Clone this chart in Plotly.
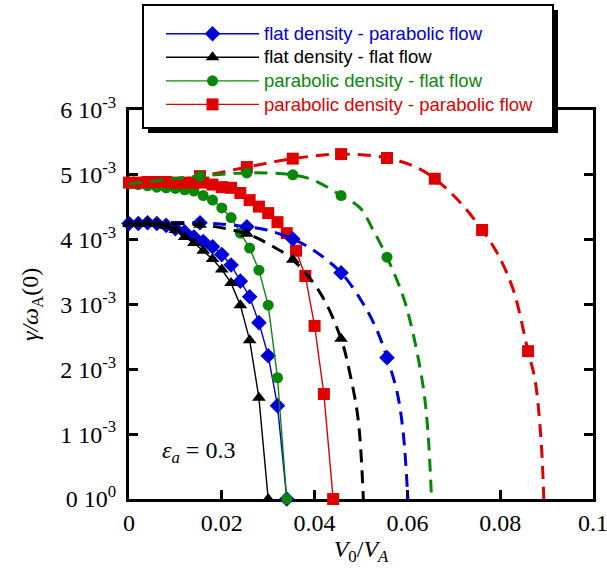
import numpy as np
import plotly.graph_objects as go

# Growth rate gamma/omega_A(0) (in units of 1e-3) versus V0/VA
# Solid curves: computed points every 0.002
blue_x = [0, 0.002, 0.004, 0.006, 0.008, 0.010, 0.012, 0.014, 0.016, 0.018,
          0.020, 0.022, 0.024, 0.026, 0.028, 0.030, 0.032, 0.034]
blue_y = [4.25, 4.25, 4.26, 4.25, 4.22, 4.17, 4.12, 4.04, 3.97, 3.89,
          3.77, 3.61, 3.36, 3.12, 2.72, 2.21, 1.44, 0.0]

black_x = [0, 0.002, 0.004, 0.006, 0.008, 0.010, 0.012, 0.014, 0.016, 0.018,
           0.020, 0.022, 0.024, 0.026, 0.028, 0.030]
black_y = [4.24, 4.24, 4.26, 4.24, 4.21, 4.15, 4.04, 3.95, 3.83, 3.70,
           3.54, 3.33, 2.99, 2.45, 1.56, 0.0]

green_x = [0, 0.002, 0.004, 0.006, 0.008, 0.010, 0.012, 0.014, 0.016, 0.018,
           0.020, 0.022, 0.024, 0.026, 0.028, 0.030, 0.032, 0.034]
green_y = [4.86, 4.85, 4.83, 4.81, 4.80, 4.79, 4.77, 4.75, 4.68, 4.61,
           4.49, 4.34, 4.10, 3.87, 3.53, 2.99, 1.87, 0.0]

red_x = [0, 0.002, 0.004, 0.006, 0.008, 0.010, 0.012, 0.014, 0.016, 0.018,
         0.020, 0.022, 0.024, 0.026, 0.028, 0.030, 0.032, 0.034, 0.036, 0.038,
         0.040, 0.042, 0.044]
red_y = [4.88, 4.88, 4.89, 4.89, 4.89, 4.88, 4.88, 4.88, 4.88, 4.85,
         4.81, 4.80, 4.72, 4.61, 4.51, 4.41, 4.27, 4.10, 3.83, 3.44,
         2.67, 1.62, 0.0]

# Dashed curves (second model): curve samples and marked points
blue_dx = [0, 0.0153, 0.0254, 0.0297, 0.0353, 0.0397, 0.0457, 0.0504, 0.0534,
           0.0556, 0.0578, 0.0591, 0.0601]
blue_dy = [4.25, 4.26, 4.20, 4.15, 4.01, 3.84, 3.49, 3.02, 2.61,
           2.18, 1.64, 1.02, 0.0]
blue_mx = [0.0153, 0.0254, 0.0353, 0.0457, 0.0556]
blue_my = [4.26, 4.20, 4.01, 3.49, 2.18]

black_dx = [0, 0.0153, 0.0254, 0.0304, 0.0353, 0.0412, 0.0457, 0.0476, 0.0494, 0.0505]
black_dy = [4.24, 4.23, 4.09, 3.92, 3.69, 3.18, 2.47, 1.94, 1.22, 0.0]
black_mx = [0.0153, 0.0254, 0.0353, 0.0457]
black_my = [4.23, 4.09, 3.69, 2.47]

green_dx = [0, 0.0153, 0.0254, 0.0353, 0.0397, 0.0457, 0.0498, 0.0526, 0.0556,
            0.0591, 0.0612, 0.0634, 0.0644, 0.0652]
green_dy = [4.86, 4.98, 5.03, 5.00, 4.92, 4.68, 4.49, 4.15, 3.73,
            3.12, 2.56, 1.73, 1.06, 0.0]
green_mx = [0.0153, 0.0254, 0.0353, 0.0457, 0.0556]
green_my = [4.98, 5.03, 5.00, 4.68, 3.73]

red_dx = [0, 0.0153, 0.0254, 0.0353, 0.0457, 0.0556, 0.0621, 0.0659, 0.0713,
          0.0761, 0.0793, 0.0828, 0.0860, 0.0875, 0.0888, 0.0894]
red_dy = [4.88, 4.98, 5.12, 5.25, 5.32, 5.26, 5.11, 4.94, 4.58,
          4.15, 3.80, 3.23, 2.28, 1.84, 0.91, 0.0]
red_mx = [0.0153, 0.0254, 0.0353, 0.0457, 0.0556, 0.0659, 0.0761, 0.0860]
red_my = [4.98, 5.12, 5.25, 5.32, 5.26, 4.94, 4.15, 2.28]

x_ticks = [0, 0.02, 0.04, 0.06, 0.08, 0.1]
x_ticktext = ["0", "0.02", "0.04", "0.06", "0.08", "0.1"]
y_ticks = [0, 1, 2, 3, 4, 5, 6]
y_ticktext = ["0 10<sup>0</sup>"] + [f"{v} 10<sup>-3</sup>" for v in y_ticks[1:]]

BLUE = "#0000d8"
BLACK = "#000000"
GREEN = "#0a870a"
RED = "#e00000"
SCALE = 1e-3

series = [
    ("flat density - parabolic flow", BLUE, "diamond", 12,
     blue_x, blue_y, blue_dx, blue_dy, blue_mx, blue_my),
    ("flat density - flat flow", BLACK, "triangle-up", 12,
     black_x, black_y, black_dx, black_dy, black_mx, black_my),
    ("parabolic density - flat flow", GREEN, "circle", 11,
     green_x, green_y, green_dx, green_dy, green_mx, green_my),
    ("parabolic density - parabolic flow", RED, "square", 12,
     red_x, red_y, red_dx, red_dy, red_mx, red_my),
]

fig = go.Figure()

# solid curves with markers (legend entries)
for name, col, sym, size, sx, sy, *_ in series:
    fig.add_trace(go.Scatter(
        x=sx, y=np.array(sy) * SCALE, mode="lines+markers",
        name=f'<span style="color:{col};font-size:18.5px">{name}</span>',
        line=dict(color=col, width=1.4),
        marker=dict(symbol=sym, size=size, color=col, line=dict(width=0)),
        cliponaxis=False,
    ))

# dashed curves, drawn on top
for idx in [0, 1, 3, 2]:
    name, col, sym, size, sx, sy, dx, dy, mx, my = series[idx]
    fig.add_trace(go.Scatter(
        x=dx, y=np.array(dy) * SCALE, mode="lines",
        line=dict(color=col, width=3, dash="13px,8px", shape="spline", smoothing=1.0),
        showlegend=False, hoverinfo="skip", cliponaxis=False,
    ))
    fig.add_trace(go.Scatter(
        x=mx, y=np.array(my) * SCALE, mode="markers",
        marker=dict(symbol=sym, size=size, color=col, line=dict(width=0)),
        showlegend=False, cliponaxis=False,
    ))

serif = "Liberation Serif, Times New Roman, serif"
axis_common = dict(
    showline=True, linewidth=3, linecolor="black", mirror="ticks",
    ticks="inside", ticklen=9, tickwidth=3, tickcolor="black",
    showgrid=False, zeroline=False, layer="below traces", automargin=False,
    ticklabeloverflow="allow",
    tickfont=dict(family=serif, size=24, color="black"),
)

# plot area in pixels: x 129..593, y 110..499
def px_x(p):
    return (p - 129) / 464

def px_y(p):
    return (499 - p) / 389

fig.update_layout(
    width=607, height=572,
    margin=dict(l=129, r=14, t=110, b=73, autoexpand=False),
    paper_bgcolor="white", plot_bgcolor="white",
    xaxis=dict(range=[0, 0.1], tickvals=x_ticks, ticktext=x_ticktext,
               title=dict(text="<i>V</i><sub>0</sub>/<i>V</i><sub><i>A</i></sub>",
                          font=dict(family=serif, size=24, color="black"), standoff=3),
               **axis_common),
    yaxis=dict(range=[0, 6 * SCALE], tickvals=np.array(y_ticks) * SCALE, ticktext=y_ticktext,
               ticklabelstandoff=5, **axis_common),
    legend=dict(x=px_x(161), y=px_y(17), xanchor="left", yanchor="top",
                bgcolor="rgba(0,0,0,0)", borderwidth=0, itemwidth=93,
                font=dict(family="Liberation Sans, Arial, sans-serif", size=15.8),
                tracegroupgap=0),
    showlegend=True,
)

# legend frame with drop shadow
fig.add_shape(type="rect", xref="paper", yref="paper", layer="above",
              x0=px_x(148), x1=px_x(558), y0=px_y(133), y1=px_y(10),
              fillcolor="black", line=dict(width=0))
fig.add_shape(type="rect", xref="paper", yref="paper", layer="above",
              x0=px_x(143), x1=px_x(553), y0=px_y(128), y1=px_y(5),
              fillcolor="white", line=dict(color="black", width=2))

# y-axis title
fig.add_annotation(x=px_x(32), y=px_y(305), xref="paper", yref="paper",
                   text="<i>γ/ω</i><sub>A</sub>(0)", textangle=-90, showarrow=False,
                   xanchor="center", yanchor="middle",
                   font=dict(family=serif, size=24, color="black"))

fig.add_annotation(x=0.0149, y=0.73 * SCALE, xref="x", yref="y",
                   text="<i>ε</i><sub><i>a</i></sub> = 0.3", showarrow=False,
                   font=dict(family=serif, size=24, color="black"))

fig.write_html("out.html")
